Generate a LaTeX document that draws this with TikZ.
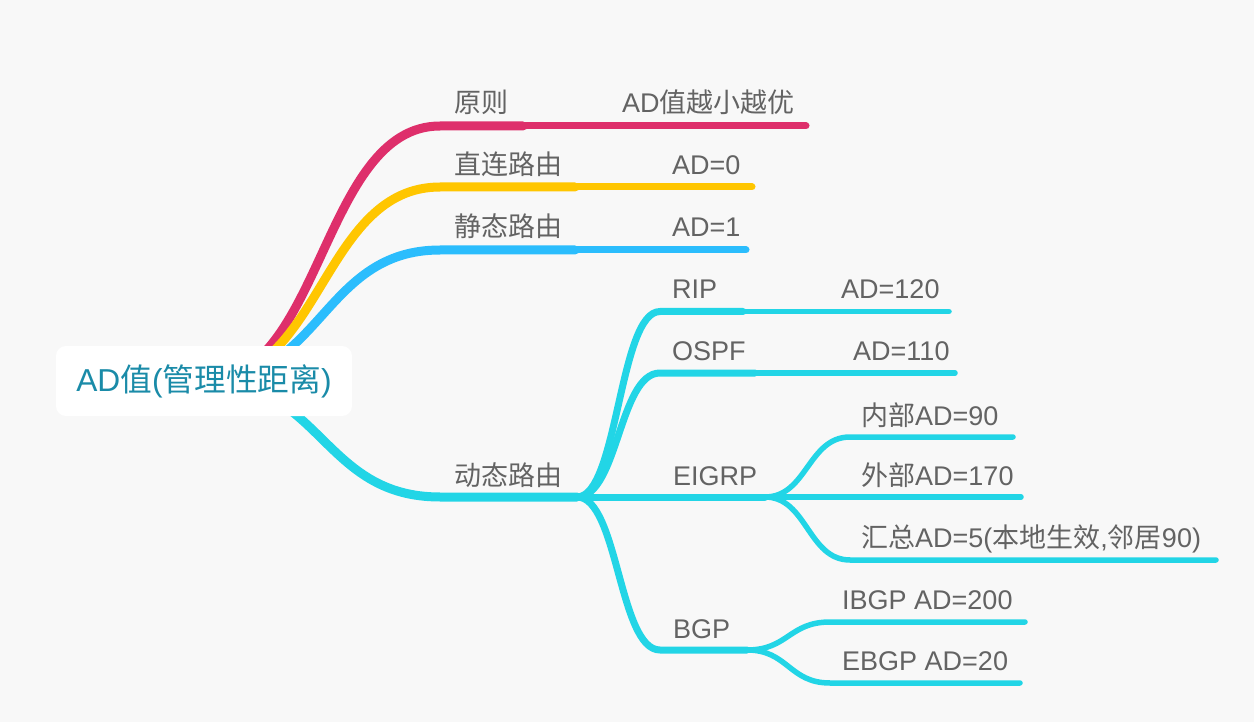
\documentclass[tikz,border=0pt]{standalone}
\usepackage{fontspec}
\setmainfont{Liberation Sans}
\newfontfamily\cjk{Noto Sans CJK SC}
\usetikzlibrary{backgrounds}
\definecolor{bgc}{HTML}{F8F8F8}
\definecolor{txtgray}{HTML}{636363}
\definecolor{roottxt}{HTML}{1A8BA8}
\definecolor{cRed}{HTML}{DE2F6B}
\definecolor{cYel}{HTML}{FFC600}
\definecolor{cBlu}{HTML}{2BBDFD}
\definecolor{cCya}{HTML}{22D5E6}
\begin{document}
\begin{tikzpicture}[x=1pt,y=-1pt,
  lbl/.style={anchor=base west, inner sep=0pt, text=txtgray, font=\fontsize{27}{30}\selectfont},
  lone/.style={line width=9pt, line cap=round},
  ltwo/.style={line width=7pt, line cap=round},
  lthree/.style={line width=5.5pt, line cap=round},
  rootbox/.style={fill=white, rounded corners=10pt, minimum width=296pt, minimum height=70pt, inner sep=0pt, text=roottxt, font=\fontsize{31.7}{34}\selectfont}]
\useasboundingbox (0,0) rectangle (1254,722);

\node[rootbox] (root) at (204,381) {AD{\cjk 值}({\cjk 管理性距离})};

% branch points
\coordinate (b1) at (440,126);  \coordinate (b1e) at (523,126);  \coordinate (b1c) at (806,126);
\coordinate (b2) at (440,187);  \coordinate (b2e) at (575,187);  \coordinate (b2c) at (752,187);
\coordinate (b3) at (440,250);  \coordinate (b3e) at (575,250);  \coordinate (b3c) at (746,250);
\coordinate (b4) at (440,497);  \coordinate (b4e) at (577,497);
\coordinate (rip) at (660,311.5); \coordinate (ripe) at (743,311.5); \coordinate (ripc) at (949,311.5);
\coordinate (ospf) at (660,373); \coordinate (ospfe) at (755,373); \coordinate (ospfc) at (955,373);
\coordinate (eig) at (765,497);
\coordinate (in) at (850,437);  \coordinate (ine) at (1013,437);
\coordinate (wai) at (1021,497);
\coordinate (hz) at (850,560);  \coordinate (hze) at (1216,560);
\coordinate (bgp) at (660,650); \coordinate (bgpe) at (747,650);
\coordinate (ib) at (830,622);  \coordinate (ibe) at (1025,622);
\coordinate (eb) at (830,683);  \coordinate (ebe) at (1020,683);

\begin{scope}[on background layer]
\fill[bgc] (0,0) rectangle (1254,722);
% level 1
\draw[lone,cRed] (root.center) .. controls +(118,0) and +(-118,0) .. (b1) -- (b1e);
\draw[ltwo,cRed] (b1e) -- (b1c);
\draw[lone,cYel] (root.center) .. controls +(118,0) and +(-118,0) .. (b2) -- (b2e);
\draw[ltwo,cYel] (b2e) -- (b2c);
\draw[lone,cBlu] (root.center) .. controls +(118,0) and +(-118,0) .. (b3) -- (b3e);
\draw[ltwo,cBlu] (b3e) -- (b3c);
\draw[lone,cCya] (root.center) .. controls +(118,0) and +(-118,0) .. (b4) -- (b4e);
% level 2
\draw[ltwo,cCya] (b4e) .. controls +(41,0) and +(-41,0) .. (rip) -- (ripe);
\draw[lthree,cCya] (ripe) -- (ripc);
\draw[ltwo,cCya] (b4e) .. controls +(41,0) and +(-41,0) .. (ospf) -- (ospfe);
\draw[lthree,cCya] (ospfe) -- (ospfc);
\draw[ltwo,cCya] (b4e) -- (eig);
\draw[ltwo,cCya] (b4e) .. controls +(41,0) and +(-41,0) .. (bgp) -- (bgpe);
% level 3
\draw[lthree,cCya] (eig) .. controls +(42,0) and +(-42,0) .. (in) -- (ine);
\draw[lthree,cCya] (eig) -- (wai);
\draw[lthree,cCya] (eig) .. controls +(42,0) and +(-42,0) .. (hz) -- (hze);
\draw[lthree,cCya] (bgpe) .. controls +(41,0) and +(-41,0) .. (ib) -- (ibe);
\draw[lthree,cCya] (bgpe) .. controls +(41,0) and +(-41,0) .. (eb) -- (ebe);
\end{scope}

% labels
\node[lbl] (t1) at (454,113) {\cjk 原则};
\node[lbl] (t1c) at (622,113) {AD{\cjk 值越小越优}};
\node[lbl] (t2) at (454,175) {\cjk 直连路由};
\node[lbl] (t2c) at (672,175) {AD=0};
\node[lbl] (t3) at (454,237) {\cjk 静态路由};
\node[lbl] (t3c) at (672,237) {AD=1};
\node[lbl] (t4) at (454,485) {\cjk 动态路由};
\node[lbl] (trip) at (672,299) {RIP};
\node[lbl] (tripc) at (841,299) {AD=120};
\node[lbl] (tospf) at (672,360) {OSPF};
\node[lbl] (tospfc) at (853,360) {AD=110};
\node[lbl] (teig) at (673,485) {EIGRP};
\node[lbl] (tin) at (861,425) {{\cjk 内部}AD=90};
\node[lbl] (twai) at (861,485) {{\cjk 外部}AD=170};
\node[lbl] (thz) at (861,547) {{\cjk 汇总}AD=5({\cjk 本地生效},{\cjk 邻居}90)};
\node[lbl] (tbgp) at (673,638) {BGP};
\node[lbl] (tib) at (842,609) {IBGP AD=200};
\node[lbl] (teb) at (842,670) {EBGP AD=20};
\end{tikzpicture}
\end{document}
